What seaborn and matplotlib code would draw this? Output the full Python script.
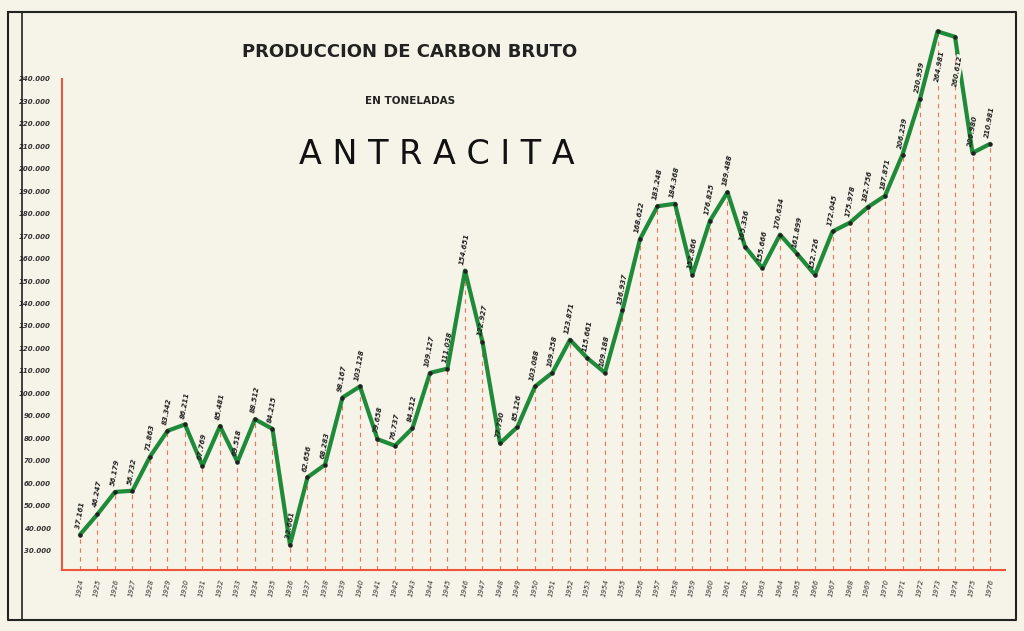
import matplotlib
matplotlib.use("Agg")
import matplotlib.pyplot as plt
import seaborn as sns
import pandas as pd
import numpy as np
from matplotlib.lines import Line2D

years = list(range(1924, 1977))
values = [37161, 46247, 56179, 56732, 71863, 83342, 86211, 67769, 85481, 69518,
          88512, 84215, 32661, 62656, 68283, 98167, 103128, 79658, 76737, 84512,
          109127, 111038, 154651, 122927, 77790, 85126, 103088, 109258, 123871, 115661,
          109188, 136937, 168622, 183248, 184368, 152866, 176825, 189488, 165336, 155666,
          170634, 161899, 152726, 172045, 175978, 182756, 187871, 206239, 230959, 261000,
          258600, 206980, 210981]
labels = ["37.161", "46.247", "56.179", "56.732", "71.863", "83.342", "86.211", "67.769",
          "85.481", "69.518", "88.512", "84.215", "32.661", "62.656", "68.283", "98.167",
          "103.128", "79.658", "76.737", "84.512", "109.127", "111.038", "154.651", "122.927",
          "77.790", "85.126", "103.088", "109.258", "123.871", "115.661", "109.188", "136.937",
          "168.622", "183.248", "184.368", "152.866", "176.825", "189.488", "165.336", "155.666",
          "170.634", "161.899", "152.726", "172.045", "175.978", "182.756", "187.871", "206.239",
          "230.959", "264.981", "260.612", "206.980", "210.981"]
yticks = list(range(30000, 240001, 10000))

df = pd.DataFrame({"year": years, "value": values})
bg = "#f6f3e8"
red = "#f0543a"

sns.set_style("white")
fig = plt.figure(figsize=(10.24, 6.31), dpi=100, facecolor=bg)
ax = fig.add_axes([0.0605, 0.097, 0.921, 0.871], facecolor=bg)

ymin, ymax = 21556, 266000
ax.vlines(df["year"], ymin, df["value"], colors=red, linestyles=(0, (4, 4)), lw=0.8, alpha=0.8)
sns.lineplot(data=df, x="year", y="value", ax=ax, color="#1f8a3a", lw=3, zorder=3)
ax.scatter(df["year"], df["value"], s=5, color="#222222", zorder=4)
for x, y, t in zip(years, values, labels):
    if y > 250000:
        ax.text(x + 0.15, y - 8000, t, rotation=80, ha="center", va="top", fontsize=5,
                fontstyle="italic", fontweight="bold", color="#222222", zorder=5,
                bbox=dict(facecolor=bg, edgecolor="none", pad=0.5))
    else:
        ax.text(x, y + 2500, t, rotation=80, ha="center", va="bottom", fontsize=5,
                fontstyle="italic", fontweight="bold", color="#222222")

ax.set_xlim(1922.97, 1976.86)
ax.set_ylim(ymin, ymax)
ax.set_yticks(yticks)
ax.set_yticklabels([f"{v // 1000}.000" for v in yticks], fontsize=5,
                   fontstyle="italic", fontweight="bold", color="#333333")
ax.set_xticks(years)
ax.set_xticklabels([str(y) for y in years], rotation=80, fontsize=5,
                   fontstyle="italic", color="#333333")
ax.tick_params(axis="y", direction="in", length=6, color=red, pad=8)
ax.tick_params(axis="x", length=0, pad=6)
for s in ["top", "right"]:
    ax.spines[s].set_visible(False)
for s in ["left", "bottom"]:
    ax.spines[s].set_color(red)
    ax.spines[s].set_linewidth(1.5)
ax.spines["left"].set_bounds(ymin, 240000)
ax.set_xlabel("")
ax.set_ylabel("")

# page frame
for xs, ys, w in [([8, 1016, 1016, 8, 8], [12, 12, 620, 620, 12], 1.5),
                  ([22, 22], [12, 620], 1.2)]:
    fig.add_artist(Line2D([x / 1024 for x in xs], [1 - y / 631 for y in ys],
                          color="#222222", lw=w, transform=fig.transFigure))

fig.text(410 / 1024, 1 - 52 / 631, "PRODUCCION DE CARBON BRUTO", ha="center", va="center",
         fontsize=13, fontweight="bold", fontfamily="DejaVu Sans Condensed", color="#222222")
fig.text(410 / 1024, 1 - 101 / 631, "EN TONELADAS", ha="center", va="center",
         fontsize=7.5, fontweight="bold", color="#222222")
fig.text(437 / 1024, 1 - 155 / 631, "A N T R A C I T A", ha="center", va="center",
         fontsize=24, fontfamily="DejaVu Sans Condensed", color="#111111")

fig.savefig("out.png", dpi=100, facecolor=bg)
